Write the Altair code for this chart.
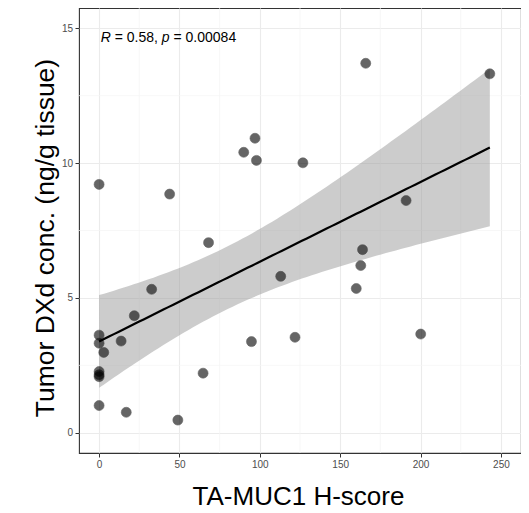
import altair as alt
import numpy as np
import pandas as pd

# ---- data ----
h_score = [0, 43.9, 90.0, 97.0, 97.9, 126.8, 165.9, 243.1, 191.0, 68.1,
           32.7, 21.9, 0, 0, 13.7, 2.9, 0, 0, 0, 64.7,
           0, 16.9, 49.0, 113.0, 94.8, 121.9, 163.9, 162.8, 160.0, 200.1]
dxd_conc = [9.21, 8.85, 10.40, 10.92, 10.10, 10.01, 13.70, 13.31, 8.61, 7.05,
            5.32, 4.34, 3.62, 3.32, 3.40, 2.98, 2.27, 2.15, 2.08, 2.21,
            1.01, 0.76, 0.47, 5.80, 3.38, 3.54, 6.79, 6.20, 5.35, 3.66]
x_ticks = [0, 50, 100, 150, 200, 250]
y_ticks = [0, 5, 10, 15]
x_minor = [25, 75, 125, 175, 225]
y_minor = [2.5, 7.5, 12.5]
x_domain = [-12.5, 262.5]
y_domain = [-0.75, 15.75]
label_parts = ["R", "= 0.58,", "p", "= 0.00084"]
label_italic = [True, False, True, False]
label_pos = {"h": [1.0], "c": [14.5]}

# ---- linear fit with 95% confidence band (from the data) ----
x = np.array(h_score, dtype=float)
y = np.array(dxd_conc, dtype=float)
n = len(x)
b, a = np.polyfit(x, y, 1)
resid = y - (a + b * x)
s = np.sqrt(np.sum(resid ** 2) / (n - 2))
xbar = x.mean()
sxx = np.sum((x - xbar) ** 2)
z = 1.959964
nu = n - 2
tq = (z + (z ** 3 + z) / (4 * nu) + (5 * z ** 5 + 16 * z ** 3 + 3 * z) / (96 * nu ** 2)
      + (3 * z ** 7 + 19 * z ** 5 + 17 * z ** 3 - 15 * z) / (384 * nu ** 3))
grid = np.linspace(x.min(), x.max(), 80)
fit = a + b * grid
se = s * np.sqrt(1.0 / n + (grid - xbar) ** 2 / sxx)
band = pd.DataFrame({"h": grid, "c": fit, "lo": fit - tq * se, "hi": fit + tq * se})
pts = pd.DataFrame({"h": h_score, "c": dxd_conc})

FONT = "Liberation Sans"
xs = alt.Scale(domain=x_domain, nice=False, zero=False)
ys = alt.Scale(domain=y_domain, nice=False, zero=False)

x_axis = alt.Axis(values=x_ticks, grid=True, gridColor="#ebebeb", gridWidth=1.1,
                  domain=False, tickColor="#333333", tickSize=4, tickWidth=1,
                  labelColor="#4d4d4d", labelFontSize=10, labelFont=FONT,
                  labelPadding=2, labelFlush=False, labelOverlap=False,
                  title="TA-MUC1 H-score", titleFont=FONT, titleFontSize=26,
                  titleFontWeight="normal", titleColor="black",
                  titleX=219, titleY=51, titleBaseline="alphabetic")
y_axis = alt.Axis(values=y_ticks, grid=True, gridColor="#ebebeb", gridWidth=1.1,
                  domain=False, tickColor="#333333", tickSize=4, tickWidth=1,
                  labelColor="#4d4d4d", labelFontSize=10, labelFont=FONT,
                  labelPadding=2.5, labelFlush=False, labelOverlap=False,
                  title="Tumor DXd conc. (ng/g tissue)", titleFont=FONT,
                  titleFontSize=26.5, titleFontWeight="normal", titleColor="black",
                  titleAngle=-90, titleX=-26, titleY=229.5,
                  titleBaseline="alphabetic", titleAlign="center")

X = alt.X("h:Q", scale=xs, axis=x_axis)
Y = alt.Y("c:Q", scale=ys, axis=y_axis)

minor_v = alt.Chart(pd.DataFrame({"h": x_minor})).mark_rule(
    color="#f3f3f3", strokeWidth=0.7).encode(x=X)
minor_h = alt.Chart(pd.DataFrame({"c": y_minor})).mark_rule(
    color="#f3f3f3", strokeWidth=0.7).encode(y=Y)

ribbon = alt.Chart(band).mark_area(color="#999999", opacity=0.5).encode(
    x=X, y=alt.Y("lo:Q", scale=ys, axis=y_axis), y2="hi:Q")
line = alt.Chart(band).mark_line(color="black", strokeWidth=2.2).encode(x=X, y=Y)
points = alt.Chart(pts).mark_circle(size=100, color="black", opacity=0.6,
                                    stroke="black", strokeWidth=0.6).encode(x=X, y=Y)

offsets = [0.0, 14.0, 61.1, 72.8]
label_df = pd.DataFrame(label_pos)
texts = []
for part, ital, dx in zip(label_parts, label_italic, offsets):
    texts.append(alt.Chart(label_df).mark_text(
        text=part, align="left", baseline="alphabetic", dx=dx, fontSize=14,
        font=FONT, fontStyle="italic" if ital else "normal", color="black"
    ).encode(x=X, y=Y))

chart = alt.layer(minor_v, minor_h, ribbon, line, points, *texts).properties(
    width=442, height=445,
    autosize=alt.AutoSizeParams(type="none"),
    padding={"left": 71, "top": 0, "right": 0, "bottom": 52},
).configure_view(stroke="#333333", strokeWidth=1.1)

chart.save("out.html", embed_options={"renderer": "svg", "actions": False})
